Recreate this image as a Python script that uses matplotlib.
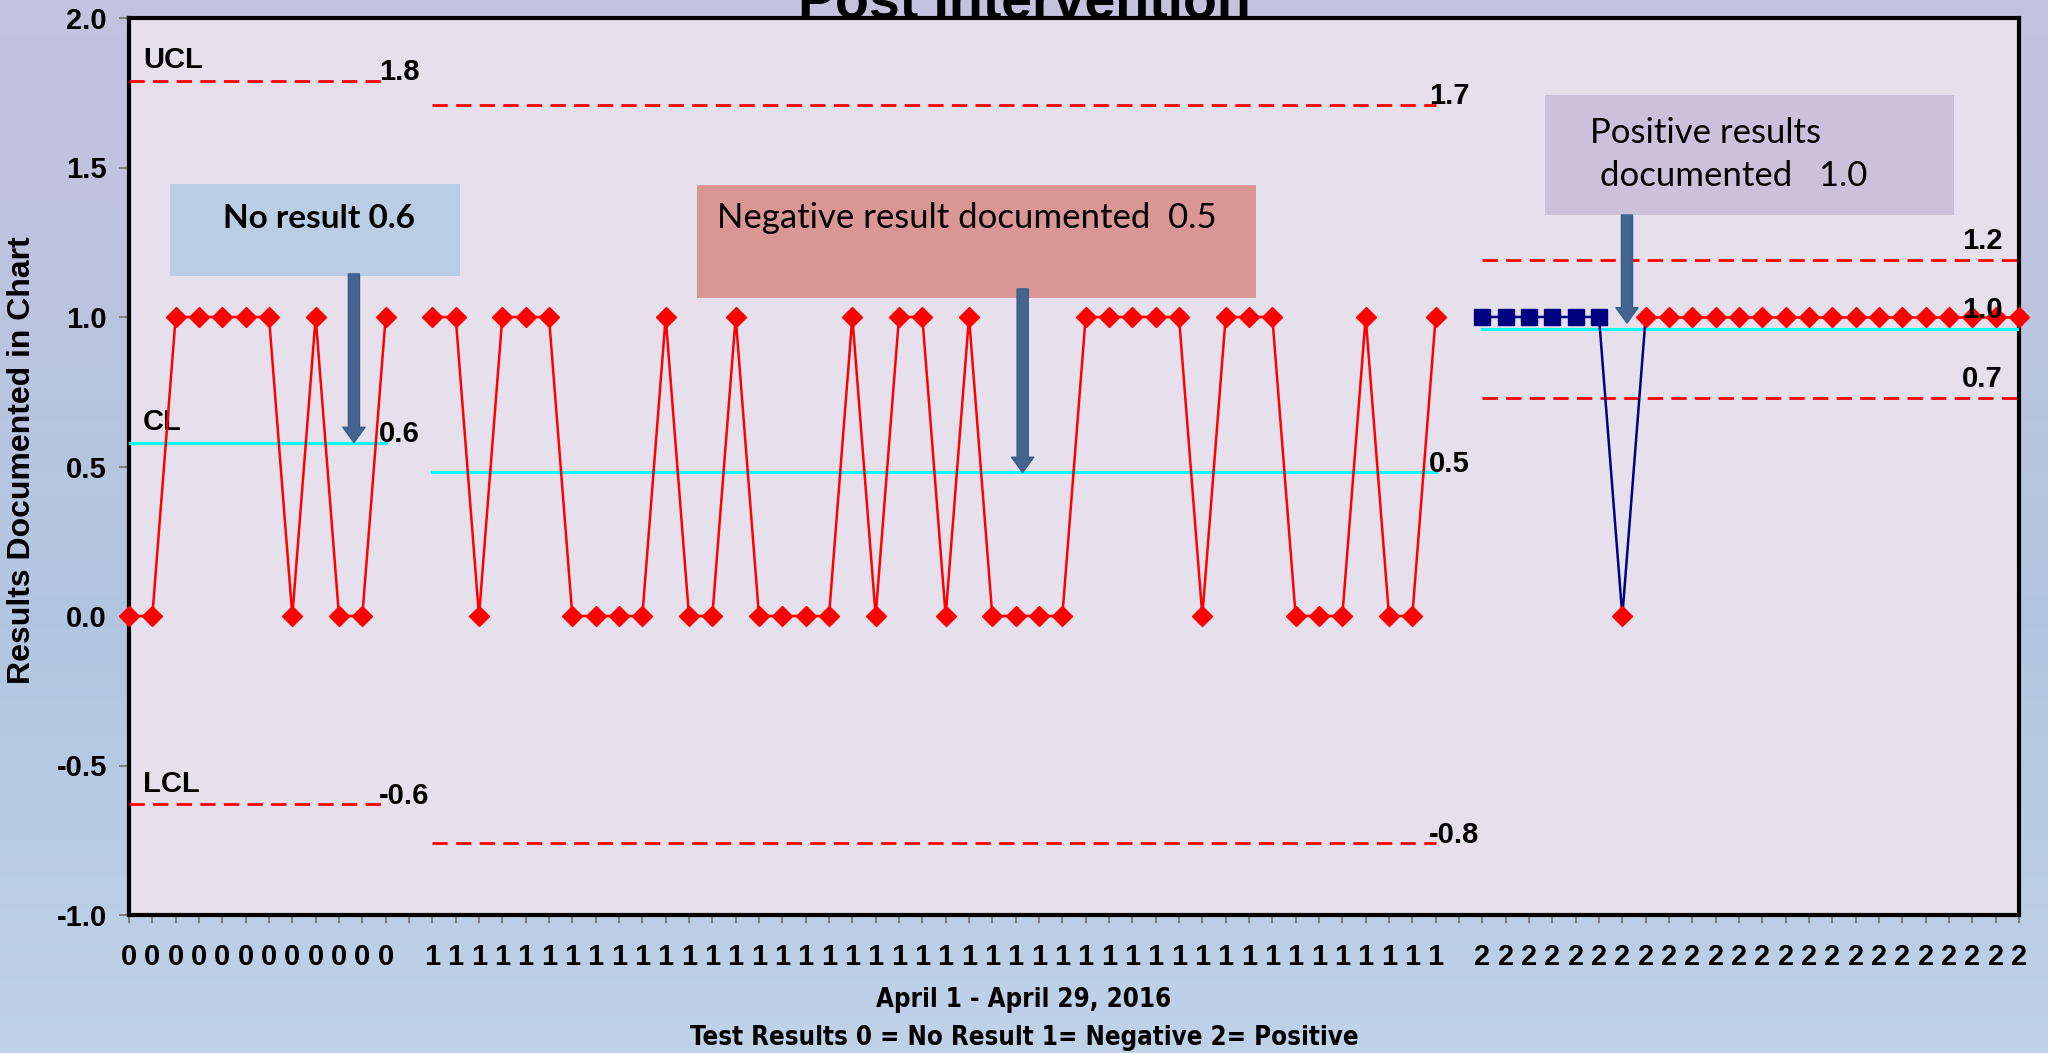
import numpy as np
import matplotlib
matplotlib.use('Agg')
import matplotlib.pyplot as plt
from matplotlib import font_manager
from matplotlib.colors import LinearSegmentedColormap
from matplotlib.patches import Rectangle
from matplotlib.ticker import FormatStrFormatter

# test result codes, one value per day, split in the three phases
no_result = [0, 0, 1, 1, 1, 1, 1, 0, 1, 0, 0, 1]
negative = [1, 1, 0, 1, 1, 1, 0, 0, 0, 0, 1, 0, 0, 1, 0, 0, 0, 0, 1, 0, 1, 1,
            0, 1, 0, 0, 0, 0, 1, 1, 1, 1, 1, 0, 1, 1, 1, 0, 0, 0, 1, 0, 0, 1]
positive = [1, 1, 1, 1, 1, 1, 0, 1, 1, 1, 1, 1, 1, 1, 1, 1, 1, 1, 1, 1, 1, 1, 1, 1]
phase_codes = ['0', '1', '2']

# control limits per phase
cl_values = [0.58, 0.48, 0.96]
ucl_values = [1.79, 1.71, 1.19]
lcl_values = [-0.63, -0.76, 0.73]

# x positions: one empty slot between phases
phases = [no_result, negative, positive]
starts = []
pos = 0
for p in phases:
    starts.append(pos)
    pos += len(p) + 1
n_slots = pos - 1
tick_labels = []
for i, p in enumerate(phases):
    tick_labels += [phase_codes[i]] * len(p)
    if i < len(phases) - 1:
        tick_labels.append('')

bold = dict(family='Liberation Sans', weight='bold')

# a condensed bold face for the axis caption, if one is installed
narrow = None
for f in font_manager.fontManager.ttflist:
    if f.weight in ('bold', 700) and f.style == 'normal' and (
            'Narrow' in f.name or 'Condensed' in f.name or f.stretch in ('condensed', 'semi-condensed')):
        narrow = font_manager.FontProperties(fname=f.fname, size=18.5)
        break
if narrow is None:
    narrow = font_manager.FontProperties(family='Liberation Sans', weight='bold', size=16)

fig = plt.figure(figsize=(20.48, 10.53), dpi=100)

# gradient backdrop
bg = fig.add_axes([0, 0, 1, 1], zorder=-10)
cmap = LinearSegmentedColormap.from_list('bg', [(0, '#c5c2de'), (0.6, '#b2c6e1'), (1, '#bfd2e8')])
bg.imshow(np.linspace(0, 1, 256).reshape(-1, 1), aspect='auto', cmap=cmap, extent=[0, 1, 0, 1])
bg.set_axis_off()

ax = fig.add_axes([129 / 2048, 1 - 915 / 1053, 1890 / 2048, 897 / 1053])
ax.set_facecolor('#e6e0ec')
ax.set_xlim(0, n_slots - 1)
ax.set_ylim(-1, 2)

# phase 1 and 2: red diamonds
for p, x0 in zip(phases[:2], starts[:2]):
    xs = np.arange(x0, x0 + len(p))
    ax.plot(xs, p, color='red', lw=1.8, marker='D', ms=10, mec='red', clip_on=False, zorder=5)

# phase 3: navy squares then red diamonds
xs = np.arange(starts[2], starts[2] + len(positive))
ax.plot(xs[:8], positive[:8], color='#000080', lw=1.8, zorder=4)
ax.plot(xs[:6], positive[:6], ls='none', marker='s', ms=12, color='#000080', zorder=5)
ax.plot(xs[7:], positive[7:], color='red', lw=1.8, zorder=4)
ax.plot(xs[6:], positive[6:], ls='none', marker='D', ms=10, color='red', clip_on=False, zorder=5)

# control lines
for i, p in enumerate(phases):
    x0, x1 = starts[i], starts[i] + len(p) - 1
    ax.plot([x0, x1], [ucl_values[i]] * 2, color='red', lw=2, dashes=(5.5, 3), zorder=3)
    ax.plot([x0, x1], [lcl_values[i]] * 2, color='red', lw=2, dashes=(5.5, 3), zorder=3)
    ax.plot([x0, x1], [cl_values[i]] * 2, color='#00ffff', lw=2.2, zorder=3)
    if i < 2:
        lx, off = x1 - 0.3, -0.018
    else:
        lx, off = x1 - 2.45, 0.017
    for v in (ucl_values[i], cl_values[i], lcl_values[i]):
        ax.text(lx, v + off, f'{v:.1f}', ha='left', va='bottom', fontsize=21, zorder=8, **bold)

for name, v in zip(['UCL', 'CL', 'LCL'], [ucl_values[0], cl_values[0], lcl_values[0]]):
    ax.text(0.6, v + 0.022, name, ha='left', va='bottom', fontsize=21, **bold)

# callout boxes
boxes = [((1.76, 1.137), 12.44, 0.308, '#b9cde4'),
         ((24.35, 1.064), 23.95, 0.377, '#da9694'),
         ((60.7, 1.341), 17.5, 0.401, '#ccc1da')]
for (bx, by), w, h, c in boxes:
    ax.add_patch(Rectangle((bx, by), w, h, facecolor=c, edgecolor='none', zorder=6))

ax.text(8.13, 1.331, 'No result 0.6', ha='center', va='center', fontsize=24,
        family='Lato', weight='bold', zorder=7)
ax.text(35.9, 1.331, 'Negative result documented  0.5', ha='center', va='center', fontsize=25,
        family='Lato', zorder=7)
ax.text(62.6, 1.615, 'Positive results', ha='left', va='center', fontsize=25, family='Lato', zorder=7)
ax.text(63.05, 1.472, 'documented   1.0', ha='left', va='center', fontsize=25, family='Lato', zorder=7)

arrow_style = 'simple,head_width=0.8,head_length=0.55,tail_width=0.4'
for x, y0, y1 in [(9.64, 1.144, cl_values[0]), (38.3, 1.094, cl_values[1]), (64.2, 1.341, 0.98)]:
    ax.annotate('', xy=(x, y1), xytext=(x, y0), zorder=9,
                arrowprops=dict(arrowstyle=arrow_style, mutation_scale=20, shrinkA=0, shrinkB=0,
                                fc='#44658f', ec='#385d8a', lw=1))

# axes styling
for s in ax.spines.values():
    s.set_linewidth(3)
    s.set_color('black')
ax.set_yticks(np.arange(-1, 2.01, 0.5))
ax.yaxis.set_major_formatter(FormatStrFormatter('%.1f'))
ax.set_xticks(np.arange(n_slots))
ax.set_xticklabels(tick_labels)
ax.tick_params(axis='y', direction='out', length=7, width=1.5, color='#808080', pad=9, labelsize=21)
ax.tick_params(axis='x', direction='out', length=6, width=1.5, color='#808080', pad=14, labelsize=21)
for lab in ax.get_xticklabels() + ax.get_yticklabels():
    lab.set_fontfamily('Liberation Sans')
    lab.set_fontweight('bold')

fig.text(22 / 2048, 1 - 460 / 1053, 'Results Documented in Chart', rotation=90, ha='center',
         va='center', fontsize=23, **bold)
fig.text(0.5, 1 - 1000 / 1053, 'April 1 - April 29, 2016', ha='center', va='center', fontproperties=narrow)
fig.text(0.5, 1 - 1038 / 1053, 'Test Results 0 = No Result 1= Negative 2= Positive', ha='center',
         va='center', fontproperties=narrow)
fig.text(0.5, 1 - 17 / 1053, 'Post Intervention', ha='center', va='baseline', fontsize=40, **bold)

fig.savefig('out.png', dpi=100)
